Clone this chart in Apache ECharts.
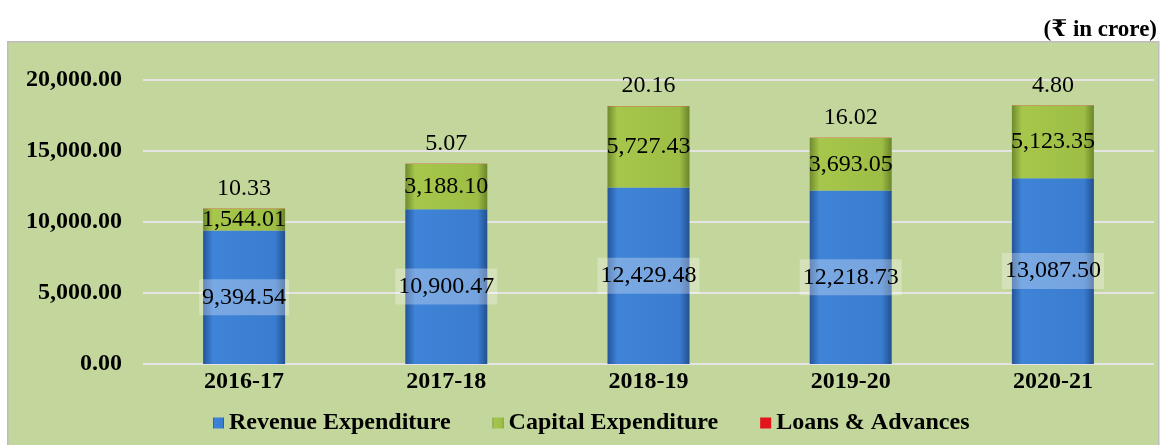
<!DOCTYPE html>
<html>
<head>
<meta charset="utf-8">
<script src="https://cdn.jsdelivr.net/npm/echarts@6/dist/echarts.min.js"></script>
<style>
html,body{margin:0;padding:0;background:#fff;}
#chart{width:1162px;height:445px;}
</style>
</head>
<body>
<div id="chart"></div>
<script>
const categories = ['2016-17', '2017-18', '2018-19', '2019-20', '2020-21'];
const revenueExpenditure = [9394.54, 10900.47, 12429.48, 12218.73, 13087.50];
const capitalExpenditure = [1544.01, 3188.10, 5727.43, 3693.05, 5123.35];
const loansAdvances = [10.33, 5.07, 20.16, 16.02, 4.80];
const seriesNames = ['Revenue Expenditure', 'Capital Expenditure', 'Loans & Advances'];
const unitNote = '(₹ in crore)';

const fmt = new Intl.NumberFormat('en-US', {minimumFractionDigits: 2, maximumFractionDigits: 2});
const serif = '"Liberation Serif", "Times New Roman", "DejaVu Serif", serif';

function grad(edge, mid1, mid2, edge2) {
  return new echarts.graphic.LinearGradient(0, 0, 1, 0, [
    {offset: 0, color: edge}, {offset: 0.12, color: mid1},
    {offset: 0.88, color: mid2}, {offset: 1, color: edge2}
  ]);
}

const chart = echarts.init(document.getElementById('chart'), null, {renderer: 'canvas'});
const labelBase = {show: true, color: '#000', fontFamily: serif, fontSize: 24, formatter: p => fmt.format(p.value)};

chart.setOption({
  animation: false,
  backgroundColor: '#ffffff',
  graphic: [
    {type: 'rect', left: 7, top: 41, shape: {width: 1151, height: 404}, style: {fill: '#c3d69b', stroke: '#bdbdbd', lineWidth: 1.5}, z: -10},
    {type: 'text', right: 5, top: 19, style: {text: unitNote, font: 'bold 23px ' + serif, fill: '#000'}}
  ],
  grid: {left: 143, right: 8, top: 80, bottom: 81, containLabel: false},
  legend: {
    data: seriesNames,
    left: 208, top: 406,
    itemWidth: 11, itemHeight: 11, itemTextGap: 6, itemGap: 42,
    icon: 'rect',
    textStyle: {fontFamily: serif, fontWeight: 'bold', fontSize: 24, color: '#000'}
  },
  xAxis: {
    type: 'category', data: categories,
    axisLine: {show: false}, axisTick: {show: false},
    axisLabel: {fontFamily: serif, fontWeight: 'bold', fontSize: 24, color: '#000', margin: 6}
  },
  yAxis: {
    type: 'value', min: 0, max: 20000, interval: 5000,
    axisLine: {show: false}, axisTick: {show: false},
    splitLine: {lineStyle: {color: '#e4e4e4', width: 2}},
    axisLabel: {fontFamily: serif, fontWeight: 'bold', fontSize: 24, color: '#000', margin: 21, formatter: v => fmt.format(v)}
  },
  series: [
    {
      name: seriesNames[0], type: 'bar', stack: 'total', barWidth: 82,
      data: revenueExpenditure,
      itemStyle: {color: grad('#24549a', '#3f84d8', '#3a7cd0', '#22508f')},
      label: Object.assign({}, labelBase, {position: 'inside', backgroundColor: 'rgba(255,255,255,0.3)', padding: [6, 3, 6, 3]})
    },
    {
      name: seriesNames[1], type: 'bar', stack: 'total', barWidth: 82,
      data: capitalExpenditure,
      itemStyle: {color: grad('#6f8a2c', '#a6c74b', '#9dbd45', '#6b8529')},
      label: Object.assign({}, labelBase, {position: 'inside'})
    },
    {
      name: seriesNames[2], type: 'bar', stack: 'total', barWidth: 82,
      data: loansAdvances,
      itemStyle: {color: '#e3141c'},
      label: Object.assign({}, labelBase, {position: 'top', distance: 8})
    }
  ]
});
</script>
</body>
</html>
